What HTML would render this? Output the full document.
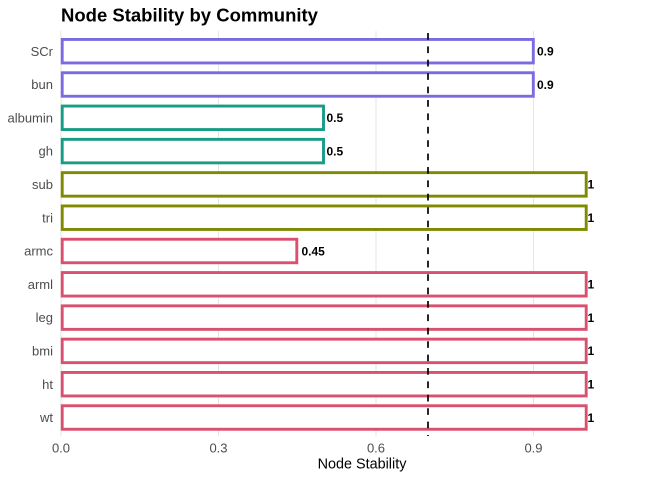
<!DOCTYPE html>
<html><head><meta charset="utf-8"><style>
html,body{margin:0;padding:0;background:#fff;}
svg{display:block;}
text{font-family:"Liberation Sans",Arial,sans-serif;}
</style></head><body>
<svg width="672" height="480" viewBox="0 0 672 480" xmlns="http://www.w3.org/2000/svg">
<rect width="672" height="480" fill="#fff"/>
<text x="61" y="21.5" font-size="18.5" font-weight="bold" fill="#000">Node Stability by Community</text>
<!-- gridlines -->
<g stroke="#e6e6e6" stroke-width="1">
<line x1="61" y1="31" x2="61" y2="436"/>
<line x1="218.5" y1="31" x2="218.5" y2="436"/>
<line x1="376" y1="31" x2="376" y2="436"/>
<line x1="533.5" y1="31" x2="533.5" y2="436"/>
</g>
<!-- bars -->
<g fill="#fff" stroke-width="2.9">
<rect x="62.2" y="39.45" width="471.1" height="23.5" stroke="#7B6BE0"/>
<rect x="62.2" y="72.75" width="471.1" height="23.5" stroke="#7B6BE0"/>
<rect x="62.2" y="106.05" width="261.3" height="23.5" stroke="#179C85"/>
<rect x="62.2" y="139.35" width="261.3" height="23.5" stroke="#179C85"/>
<rect x="62.2" y="172.65" width="524" height="23.5" stroke="#7E8A00"/>
<rect x="62.2" y="205.95" width="524" height="23.5" stroke="#7E8A00"/>
<rect x="62.2" y="239.25" width="234.6" height="23.5" stroke="#D9516F"/>
<rect x="62.2" y="272.55" width="524" height="23.5" stroke="#D9516F"/>
<rect x="62.2" y="305.85" width="524" height="23.5" stroke="#D9516F"/>
<rect x="62.2" y="339.15" width="524" height="23.5" stroke="#D9516F"/>
<rect x="62.2" y="372.45" width="524" height="23.5" stroke="#D9516F"/>
<rect x="62.2" y="405.75" width="524" height="23.5" stroke="#D9516F"/>
</g>
<!-- dashed threshold -->
<line x1="428" y1="33" x2="428" y2="436" stroke="#000" stroke-width="1.7" stroke-dasharray="6.7 6.7"/>
<!-- value labels -->
<g font-size="12" font-weight="bold" fill="#000">
<text x="537" y="55.5">0.9</text>
<text x="537" y="88.8">0.9</text>
<text x="326.5" y="122.1">0.5</text>
<text x="326.5" y="155.4">0.5</text>
<text x="587.5" y="188.7">1</text>
<text x="587.5" y="222">1</text>
<text x="301.5" y="255.3">0.45</text>
<text x="587.5" y="288.6">1</text>
<text x="587.5" y="321.9">1</text>
<text x="587.5" y="355.2">1</text>
<text x="587.5" y="388.5">1</text>
<text x="587.5" y="421.8">1</text>
</g>
<!-- y labels -->
<g font-size="13" fill="#4d4d4d" text-anchor="end">
<text x="53" y="55.8">SCr</text>
<text x="53" y="89.1">bun</text>
<text x="53" y="122.4">albumin</text>
<text x="53" y="155.7">gh</text>
<text x="53" y="189">sub</text>
<text x="53" y="222.3">tri</text>
<text x="53" y="255.6">armc</text>
<text x="53" y="288.9">arml</text>
<text x="53" y="322.2">leg</text>
<text x="53" y="355.5">bmi</text>
<text x="53" y="388.8">ht</text>
<text x="53" y="422.1">wt</text>
</g>
<!-- x ticks -->
<g font-size="13" fill="#4d4d4d" text-anchor="middle">
<text x="61" y="452.7">0.0</text>
<text x="218.5" y="452.7">0.3</text>
<text x="376" y="452.7">0.6</text>
<text x="533.5" y="452.7">0.9</text>
</g>
<text x="362" y="468.5" font-size="14.4" fill="#000" text-anchor="middle">Node Stability</text>
</svg>
</body></html>
